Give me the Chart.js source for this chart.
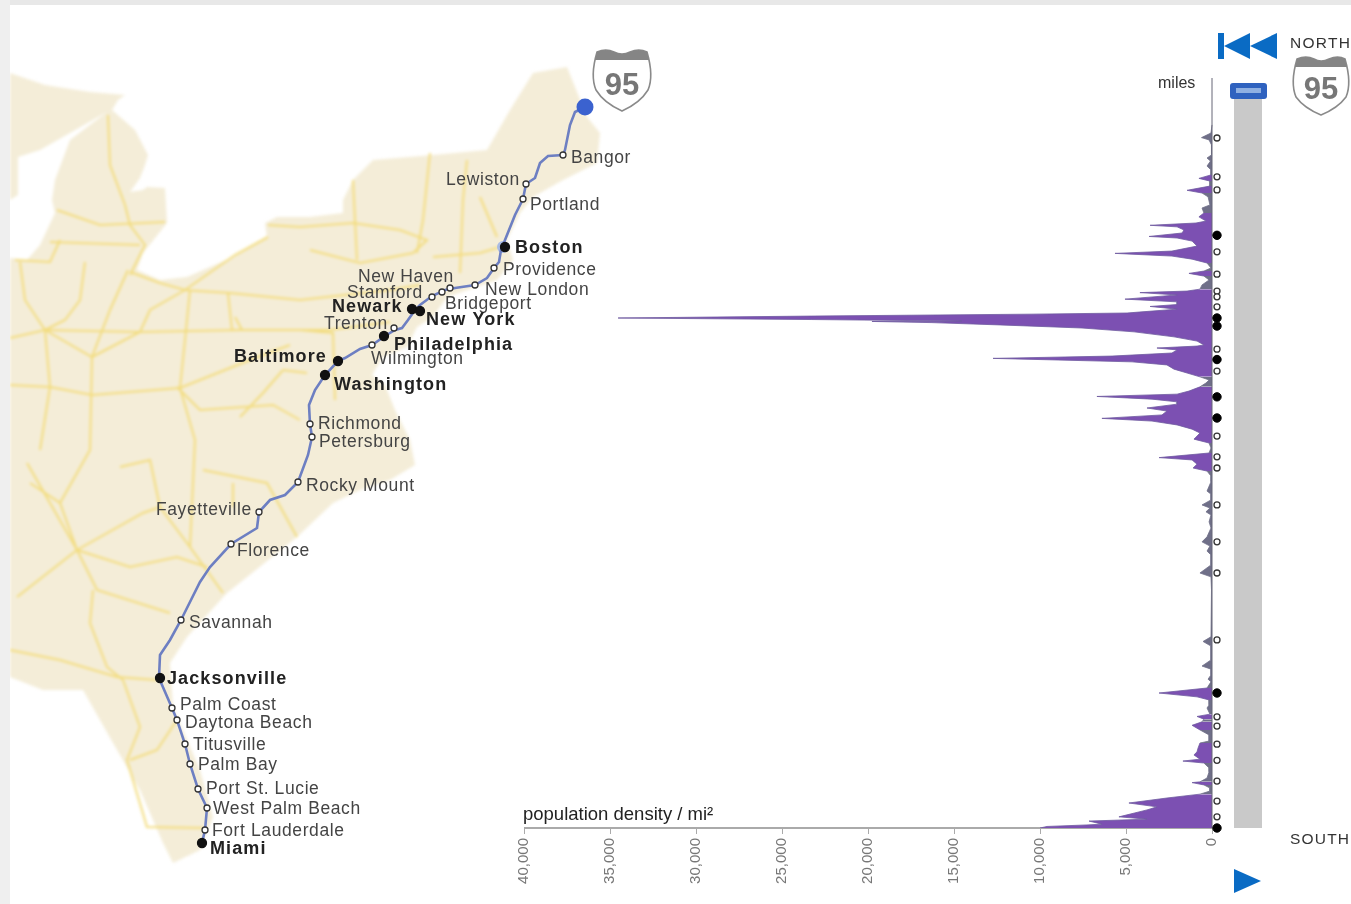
<!DOCTYPE html>
<html>
<head>
<meta charset="utf-8">
<title>I-95 population density</title>
<script src="https://cdn.jsdelivr.net/npm/chart.js@4"></script>
<style>
  html, body { margin: 0; padding: 0; background: #fff; overflow: hidden; }
  #page { position: relative; width: 1351px; height: 904px; overflow: hidden; background: #fff; font-family: "Liberation Sans", Arial, sans-serif; }
  canvas { position: absolute; left: 0; top: 0; }
  #mapBase { filter: blur(1.5px); }
  .edge { position: absolute; background: #efefef; }
  .label { position: absolute; white-space: nowrap; color: #2b2b2b; }
  svg { position: absolute; overflow: visible; }
  #track { position: absolute; left: 1234px; top: 99px; width: 28px; height: 729px; background: #c9c9c9; }
  #handle { position: absolute; left: 1230px; top: 83px; width: 37px; height: 16px; border-radius: 3px; background: #2f62bf; }
  #handle div { position: absolute; left: 6px; top: 5px; width: 25px; height: 5px; background: #8fb0e2; }
</style>
</head>
<body>
<div id="page">
  <canvas id="mapBase" width="1351" height="904"></canvas>
  <div class="edge" style="left:0;top:0;width:1351px;height:5px;background:#e8e8e8"></div>
  <div class="edge" style="left:0;top:0;width:10px;height:904px"></div>
  <canvas id="mapRoute" width="1351" height="904"></canvas>
  <canvas id="densityChart" width="1351" height="904"></canvas>

  <div id="track"></div>
  <div id="handle"><div></div></div>

  <div class="label" style="left:523px;top:803px;font-size:18.5px;color:#222">population density / mi²</div>
  <div class="label" style="left:1158px;top:74px;font-size:16px;color:#333">miles</div>
  <div class="label" style="left:1290px;top:34px;font-size:15.5px;letter-spacing:1.3px;color:#333">NORTH</div>
  <div class="label" style="left:1290px;top:830px;font-size:15.5px;letter-spacing:1.2px;color:#333">SOUTH</div>

  <!-- rewind / play buttons -->
  <svg style="left:0;top:0" width="1351" height="904">
    <g fill="#0a6bc4">
      <rect x="1218" y="33" width="6" height="26"></rect>
      <polygon points="1224,46 1250,33 1250,59"></polygon>
      <polygon points="1250,46 1277,33 1277,59"></polygon>
      <polygon points="1234,869 1261,881 1234,893"></polygon>
    </g>
    <g id="shieldA" transform="translate(592,48)">
      <path d="M5 4 Q14 0 22 4 Q30 8 38 4 Q47 0 55 4 Q62 28 56 42 Q48 55 30 63 Q12 55 4 42 Q-2 28 5 4 Z" fill="#fff" stroke="#8a8a8a" stroke-width="1.6"></path>
      <path d="M5 4 Q14 0 22 4 Q30 8 38 4 Q47 0 55 4 L57 12 L3 12 Z" fill="#858585"></path>
      <text x="30" y="47" text-anchor="middle" font-size="31" font-weight="bold" font-family="Liberation Sans" fill="#777">95</text>
    </g>
    <g id="shieldB" transform="translate(1292,55)">
      <path d="M5 4 Q14 0 22 4 Q29 8 37 4 Q46 0 53 4 Q60 28 54 42 Q46 53 29 60 Q12 53 4 42 Q-2 28 5 4 Z" fill="#fff" stroke="#8a8a8a" stroke-width="1.6"></path>
      <path d="M5 4 Q14 0 22 4 Q29 8 37 4 Q46 0 53 4 L55 12 L3 12 Z" fill="#858585"></path>
      <text x="29" y="44" text-anchor="middle" font-size="31" font-weight="bold" font-family="Liberation Sans" fill="#777">95</text>
    </g>
  </svg>
</div>

<script>
// density profile along the highway, read north to south
const densityMiles = [
  1828, 1807, 1795, 1789, 1776, 1750, 1742, 1734, 1721, 1711, 1698, 1689, 1682, 1669, 1658, 1651, 1641, 1620, 1612, 1599,
  1589, 1578, 1573, 1567, 1563, 1555, 1547, 1538, 1534, 1526, 1513, 1500, 1494, 1487, 1479, 1469, 1456, 1448, 1442, 1435,
  1425, 1412, 1401, 1396, 1392, 1386, 1375, 1368, 1361, 1356, 1349, 1342, 1339, 1336, 1331, 1326, 1322, 1318, 1317, 1314,
  1308, 1300, 1290, 1277, 1266, 1256, 1253, 1248, 1243, 1235, 1227, 1221, 1212, 1204, 1193, 1183, 1173, 1165, 1157, 1147,
  1136, 1128, 1122, 1115, 1108, 1102, 1092, 1084, 1074, 1065, 1058, 1048, 1037, 1027, 1019, 1011, 1001, 988, 975, 963,
  957, 946, 936, 928, 915, 900, 876, 868, 853, 840, 832, 822, 814, 796, 780, 757, 744, 733, 720, 710,
  684, 663, 653, 619, 497, 485, 473, 437, 421, 413, 398, 387, 380, 364, 351, 341, 333, 320, 312, 296,
  290, 283, 276, 267, 255, 242, 226, 221, 208, 198, 190, 179, 174, 169, 156, 146, 130, 120, 118, 112,
  104, 96, 88, 78, 65, 55, 47, 29, 23, 18, 10, 8, 4, 0
];
const densityValues = [
  0, 60, 610, 170, 30, 30, 290, 90, 290, 60, 60, 760, 120, 120, 1450, 580, 230, 120, 580, 470,
  760, 350, 930, 3600, 2030, 1630, 1740, 3660, 2030, 1160, 870, 2330, 5640, 2330, 1160, 290, 60, 470, 1340, 470,
  170, 580, 700, 1450, 4190, 2030, 5060, 2030, 2030, 3600, 2030, 4070, 4940, 10470, 23260, 34530, 23260, 14540, 19770, 16280,
  12330, 7560, 4530, 2210, 870, 470, 870, 3200, 2030, 2330, 5810, 12730, 4650, 2620, 2210, 1450, 700, 170, 350, 700,
  1340, 2030, 6690, 3490, 2030, 2030, 3780, 2620, 2910, 6400, 3490, 2030, 1160, 700, 870, 1050, 170, 60, 170, 3080,
  1160, 870, 1100, 290, 60, 60, 290, 60, 60, 580, 120, 350, 60, 170, 60, 290, 580, 120, 290, 60,
  60, 700, 60, 30, 60, 520, 60, 60, 580, 60, 60, 230, 60, 290, 3080, 870, 170, 170, 290, 120,
  870, 470, 580, 1160, 700, 170, 170, 700, 810, 870, 1050, 700, 1690, 470, 170, 170, 290, 700, 1160, 470,
  120, 120, 700, 2620, 4830, 3200, 3780, 5410, 3780, 7150, 6400, 7270, 9590, 10000
];
const densityTicks = [40000, 35000, 30000, 25000, 20000, 15000, 10000, 5000, 0];

// stops along the density axis
const stopMiles = [1794, 1693, 1659, 1498, 1440, 1396, 1381, 1355, 1245, 1188, 1019, 965, 936, 840, 744, 663, 489, 289, 265, 218, 176, 122, 70, 29];
const majorStopMiles = [1541, 1326, 1305, 1218, 1121, 1066, 351, 0];

// map data, in map units of the 1351 x 904 sheet
const cityNames = ["Bangor", "Lewiston", "Portland", "Boston", "Providence", "New London", "New Haven", "Bridgeport", "Stamford", "Newark", "New York", "Trenton", "Philadelphia", "Wilmington", "Baltimore", "Washington", "Richmond", "Petersburg", "Rocky Mount", "Fayetteville", "Florence", "Savannah", "Jacksonville", "Palm Coast", "Daytona Beach", "Titusville", "Palm Bay", "Port St. Lucie", "West Palm Beach", "Fort Lauderdale", "Miami"];
const cityX = [563, 526, 523, 505, 494, 475, 450, 442, 432, 412, 420, 394, 384, 372, 338, 325, 310, 312, 298, 259, 231, 181, 160, 172, 177, 185, 190, 198, 207, 205, 202];
const cityY = [155, 184, 199, 247, 268, 285, 288, 292, 297, 309, 311, 328, 336, 345, 361, 375, 424, 437, 482, 512, 544, 620, 678, 708, 720, 744, 764, 789, 808, 830, 843];
const cityMajor = ["Boston", "Newark", "New York", "Philadelphia", "Baltimore", "Washington", "Jacksonville", "Miami"];
const labelX = [571, 446, 530, 515, 503, 485, 358, 445, 347, 332, 426, 324, 394, 371, 234, 334, 318, 319, 306, 156, 237, 189, 167, 180, 185, 193, 198, 206, 213, 212, 210];
const labelY = [158, 180, 205, 248, 270, 290, 277, 304, 293, 307, 320, 324, 345, 359, 357, 385, 424, 442, 486, 510, 551, 623, 679, 705, 723, 745, 765, 789, 809, 831, 849];
const bostonRing = [[503, 247]];

const routePath = [[585, 107], [575, 112], [570, 125], [565, 150], [563, 155], [548, 156], [540, 163], [535, 178], [526, 184], [523, 199], [515, 215], [505, 240], [501, 250], [499, 262], [494, 268], [487, 278], [475, 285], [455, 288], [445, 290], [432, 296], [420, 305], [415, 310], [408, 320], [402, 328], [395, 330], [385, 336], [372, 345], [360, 349], [345, 358], [338, 361], [325, 375], [315, 390], [309, 405], [310, 424], [312, 437], [308, 455], [298, 482], [285, 495], [270, 500], [259, 512], [257, 528], [231, 544], [210, 567], [200, 582], [181, 620], [170, 640], [160, 655], [159, 678], [172, 708], [177, 720], [185, 744], [190, 764], [198, 789], [207, 808], [205, 830], [202, 843]];

const landOutline = [[10, 73], [45, 85], [90, 92], [125, 95], [118, 100], [112, 110], [135, 130], [148, 155], [145, 165], [140, 178], [130, 192], [143, 190], [147, 187], [165, 188], [167, 223], [143, 253], [137, 270], [160, 280], [187, 277], [233, 257], [267, 237], [265, 223], [277, 217], [310, 217], [343, 213], [343, 200], [353, 180], [373, 160], [433, 155], [487, 150], [510, 110], [533, 73], [567, 67], [587, 117], [600, 133], [597, 163], [563, 180], [533, 197], [520, 213], [507, 240], [513, 260], [497, 280], [447, 297], [433, 317], [417, 327], [407, 347], [383, 357], [372, 375], [385, 385], [395, 410], [410, 440], [415, 465], [390, 480], [360, 490], [333, 503], [297, 537], [227, 593], [187, 637], [170, 663], [173, 707], [200, 770], [213, 817], [200, 850], [173, 863], [163, 843], [140, 790], [113, 743], [83, 690], [43, 690], [10, 677]];
const lakeOutline = [[107, 112], [70, 140], [55, 180], [52, 200], [55, 213], [40, 245], [27, 260], [10, 258], [10, 200], [18, 195], [18, 157], [40, 150]];

const roads = [
  [[57, 210], [100, 225], [165, 222]],
  [[50, 242], [140, 245]],
  [[108, 115], [110, 165], [125, 205], [130, 225], [145, 245], [130, 275]],
  [[15, 260], [50, 262], [60, 240]],
  [[130, 272], [160, 283], [185, 290], [235, 255], [268, 237]],
  [[10, 338], [45, 330], [140, 332], [240, 330], [330, 330], [390, 322]],
  [[185, 290], [150, 310], [140, 332], [92, 357], [45, 330]],
  [[20, 262], [25, 300], [45, 330], [50, 387], [40, 450]],
  [[85, 262], [80, 300], [65, 320], [45, 330]],
  [[128, 270], [110, 310], [92, 357], [90, 450], [60, 503]],
  [[10, 385], [50, 387], [92, 395], [180, 388], [250, 360], [290, 345]],
  [[190, 290], [185, 340], [180, 388], [195, 440], [190, 547], [223, 593]],
  [[183, 290], [230, 293], [300, 300], [390, 290], [420, 285]],
  [[228, 293], [232, 330], [242, 330], [235, 317]],
  [[268, 225], [300, 227], [353, 223], [400, 230], [427, 240], [413, 253], [360, 263], [310, 250]],
  [[357, 260], [353, 180]],
  [[430, 153], [423, 220], [417, 253]],
  [[467, 160], [463, 200], [460, 273]],
  [[433, 257], [480, 253], [500, 247]],
  [[480, 197], [497, 237]],
  [[300, 330], [333, 333], [335, 400]],
  [[177, 387], [200, 410], [273, 405], [300, 420]],
  [[283, 370], [263, 393], [240, 417]],
  [[283, 370], [307, 373]],
  [[77, 550], [17, 597]],
  [[77, 550], [97, 590], [170, 613]],
  [[77, 550], [143, 513], [160, 507]],
  [[77, 550], [60, 503], [30, 483]],
  [[77, 550], [130, 567], [177, 557], [207, 567]],
  [[93, 590], [90, 623], [107, 667], [123, 680]],
  [[10, 650], [60, 660], [117, 677], [157, 680]],
  [[123, 680], [140, 727], [127, 760], [147, 827], [203, 828]],
  [[177, 720], [157, 750], [130, 760]],
  [[120, 467], [150, 460], [160, 507], [190, 547]],
  [[203, 470], [267, 483], [297, 537]],
  [[233, 483], [233, 507]],
  [[27, 463], [50, 503], [77, 550]]
];

const toPoints = (pairs) => pairs.map(([x, y]) => ({ x, y }));

// fills the closed outlines that a line dataset cannot
const outlineFill = {
  id: "outlineFill",
  beforeDatasetsDraw(chart) {
    const { ctx } = chart;
    chart.data.datasets.forEach((ds, i) => {
      if (!ds.outlineColor) return;
      const points = chart.getDatasetMeta(i).data;
      ctx.save();
      ctx.beginPath();
      points.forEach((p, k) => (k ? ctx.lineTo(p.x, p.y) : ctx.moveTo(p.x, p.y)));
      ctx.closePath();
      ctx.fillStyle = ds.outlineColor;
      ctx.fill();
      ctx.restore();
    });
  },
};

// city names next to their stops
const cityLabels = {
  id: "cityLabels",
  afterDatasetsDraw(chart) {
    const { ctx, scales } = chart;
    ctx.save();
    ctx.textBaseline = "middle";
    cityNames.forEach((name, i) => {
      const major = cityMajor.includes(name);
      ctx.font = (major ? "bold 18px" : "17.5px") + ' "Liberation Sans"';
      ctx.letterSpacing = major ? "1.1px" : "0.6px";
      ctx.fillStyle = major ? "#222" : "#444";
      ctx.fillText(name, scales.x.getPixelForValue(labelX[i]), scales.y.getPixelForValue(labelY[i]));
    });
    ctx.restore();
  },
};

const sheetOptions = {
  responsive: false,
  animation: false,
  events: [],
  layout: { padding: 0, autoPadding: false },
  plugins: { legend: { display: false }, tooltip: { enabled: false } },
  scales: {
    x: { type: "linear", display: false, min: 0, max: 1351 },
    y: { type: "linear", display: false, min: 0, max: 904, reverse: true },
  },
};

// land, lake and roads
new Chart(document.getElementById("mapBase"), {
  type: "scatter",
  plugins: [outlineFill],
  data: {
    datasets: [
      { data: toPoints(landOutline), outlineColor: "#f4edd8", pointRadius: 0 },
      { data: toPoints(lakeOutline), outlineColor: "#ffffff", pointRadius: 0 },
      ...roads.map((road) => ({
        data: toPoints(road),
        showLine: true,
        borderColor: "#f3dc7c",
        borderWidth: 2,
        pointRadius: 0,
      })),
    ],
  },
  options: sheetOptions,
});

// route and cities
new Chart(document.getElementById("mapRoute"), {
  type: "scatter",
  plugins: [cityLabels],
  data: {
    datasets: [
      {
        data: toPoints(bostonRing),
        pointRadius: 6,
        pointBackgroundColor: "#a9bbe4",
        pointBorderWidth: 0,
        order: 4,
      },
      {
        data: toPoints(routePath),
        showLine: true,
        borderColor: "#6d7fc2",
        borderWidth: 2.6,
        pointRadius: 0,
        order: 3,
      },
      {
        data: cityX.map((x, i) => ({ x, y: cityY[i] })),
        pointRadius: cityNames.map((n) => (cityMajor.includes(n) ? 4.5 : 3)),
        pointBackgroundColor: cityNames.map((n) => (cityMajor.includes(n) ? "#111" : "#fff")),
        pointBorderColor: cityNames.map((n) => (cityMajor.includes(n) ? "#111" : "#333")),
        pointBorderWidth: 1.3,
        order: 2,
      },
      {
        data: toPoints(routePath.slice(0, 1)),
        pointRadius: 8.5,
        pointBackgroundColor: "#3b62cf",
        pointBorderWidth: 0,
        order: 1,
      },
    ],
  },
  options: sheetOptions,
});

// the thin low spikes read grey in the reference
const lowSpike = (ctx) => (Math.max(ctx.p0.parsed.x, ctx.p1.parsed.x) <= 720 ? "#6f6f88" : undefined);

// population density along the highway
const markerOffset = -290; // stops sit just right of the zero line
new Chart(document.getElementById("densityChart"), {
  type: "line",
  data: {
    datasets: [
      {
        data: densityMiles.map((y, i) => ({ x: densityValues[i], y })),
        fill: "origin",
        backgroundColor: "#7c50b2",
        borderColor: "#6f5aa0",
        borderWidth: 0.8,
        pointRadius: 0,
        segment: { backgroundColor: lowSpike, borderColor: lowSpike },
        order: 4,
      },
      {
        data: [{ x: 0, y: 0 }, { x: 0, y: 1950 }],
        borderColor: "#667",
        borderWidth: 1,
        pointRadius: 0,
        order: 3,
      },
      {
        data: [{ x: densityTicks[0], y: 0 }, { x: 0, y: 0 }],
        borderColor: "#aaa",
        borderWidth: 2,
        pointRadius: 0,
        clip: false,
        order: 5,
      },
      {
        data: stopMiles.map((y) => ({ x: markerOffset, y })),
        showLine: false,
        pointRadius: 3,
        pointBackgroundColor: "#fff",
        pointBorderColor: "#333",
        pointBorderWidth: 1.3,
        order: 2,
      },
      {
        data: majorStopMiles.map((y) => ({ x: markerOffset, y })),
        showLine: false,
        pointRadius: 4.2,
        pointBackgroundColor: "#000",
        pointBorderColor: "#000",
        clip: false,
        order: 1,
      },
    ],
  },
  options: {
    responsive: false,
    animation: false,
    events: [],
    indexAxis: "y",
    layout: { padding: { left: 524, right: 123, top: 78, bottom: 0 }, autoPadding: false },
    plugins: { legend: { display: false }, tooltip: { enabled: false } },
    scales: {
      x: {
        type: "linear",
        reverse: true,
        min: -930,
        max: 40000,
        border: { display: false },
        grid: { drawOnChartArea: false, drawTicks: true, tickLength: 6, tickColor: "#aaa" },
        afterBuildTicks(scale) {
          scale.ticks = densityTicks.map((value) => ({ value }));
        },
        afterFit(scale) {
          scale.height = 76;
          scale.paddingLeft = 0;
          scale.paddingRight = 0;
        },
        ticks: {
          autoSkip: false,
          minRotation: 90,
          maxRotation: 90,
          padding: 4,
          color: "#777",
          font: { family: "Liberation Sans", size: 15 },
          callback: (value) => Number(value).toLocaleString("en-US"),
        },
      },
      y: { type: "linear", display: false, min: 0, max: 1950 },
    },
  },
});
</script>
</body>
</html>
